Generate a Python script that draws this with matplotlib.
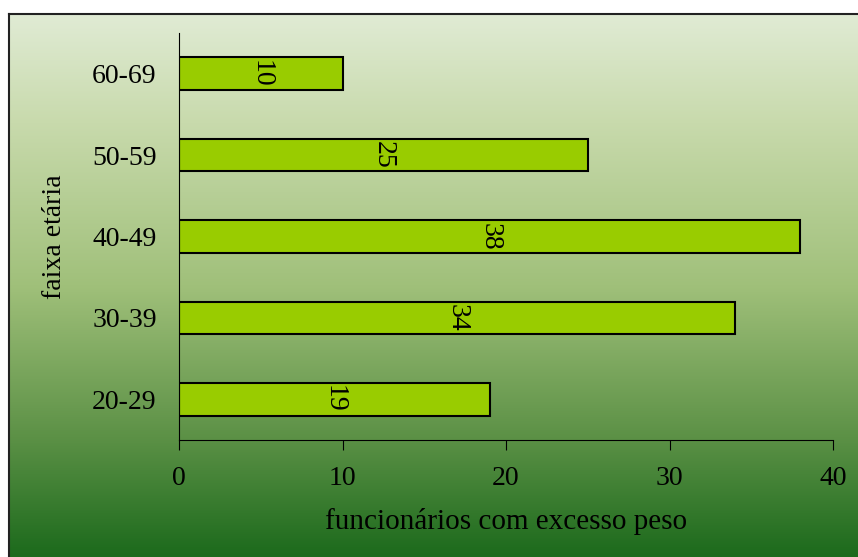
# gráfico: funcionários com excesso de peso por faixa etária

import numpy as np
import matplotlib.pyplot as plt
from matplotlib.colors import LinearSegmentedColormap

faixas = ["20-29", "30-39", "40-49", "50-59", "60-69"]
valores = [19, 34, 38, 25, 10]
xticks = [0, 10, 20, 30, 40]

plt.rcParams['font.family'] = ['Liberation Serif', 'DejaVu Serif']

fig = plt.figure(figsize=(8.58, 5.57), dpi=100)

# fundo em degradê (claro em cima, verde escuro embaixo)
bg = fig.add_axes([9 / 858, 0, 1 - 9 / 858, 1 - 14 / 557])
grad = LinearSegmentedColormap.from_list(
    "fundo",
    [(0.0, (28/255, 106/255, 28/255)),
     (0.22, (92/255, 145/255, 70/255)),
     (0.5, (160/255, 192/255, 122/255)),
     (0.8, (200/255, 218/255, 172/255)),
     (1.0, (224/255, 235/255, 212/255))])
bg.imshow(np.linspace(0, 1, 256).reshape(-1, 1), aspect='auto', cmap=grad,
          origin='lower', extent=[0, 1, 0, 1])
bg.set_xticks([])
bg.set_yticks([])
bg.spines['right'].set_visible(False)
bg.spines['bottom'].set_visible(False)
for s in ('left', 'top'):
    bg.spines[s].set_linewidth(1.5)
    bg.spines[s].set_color('#222222')

ax = fig.add_axes([179 / 858, 1 - 440 / 557, (833 - 179) / 858, (440 - 33) / 557])
ax.patch.set_alpha(0)
y = np.arange(len(faixas))
bars = ax.barh(y, valores, height=0.4, color='#99CC00', edgecolor='black', linewidth=1.5)
for b, v in zip(bars, valores):
    ax.text(v / 2, b.get_y() + b.get_height() / 2, str(v), rotation=-90,
            ha='center', va='center', fontsize=20, clip_on=True)

ax.set_xlim(0, 40)
ax.set_ylim(-0.5, 4.5)
ax.set_xticks(xticks)
ax.set_yticks(y)
ax.set_yticklabels(faixas)
ax.tick_params(axis='x', length=7, direction='out', pad=12, labelsize=20)
ax.tick_params(axis='y', length=0, pad=16, labelsize=20)
ax.spines['top'].set_visible(False)
ax.spines['right'].set_visible(False)
ax.set_xlabel("funcionários com excesso peso", fontsize=21, labelpad=12)
ax.set_ylabel("faixa etária", fontsize=20, labelpad=18)

fig.savefig("out.png", dpi=100)
